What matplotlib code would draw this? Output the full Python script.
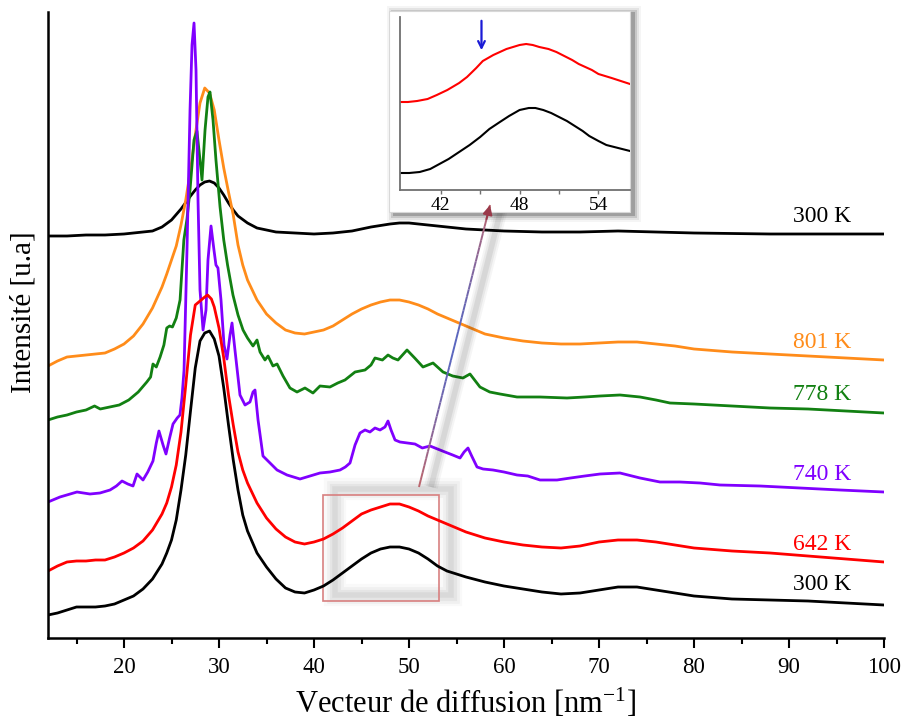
import numpy as np
import matplotlib
matplotlib.use("Agg")
import matplotlib.pyplot as plt
from matplotlib.patches import Rectangle, ConnectionPatch
from matplotlib.collections import LineCollection
from matplotlib import transforms

plt.rcParams['font.family'] = ['Liberation Serif', 'DejaVu Serif']
plt.rcParams['mathtext.fontset'] = 'custom'
plt.rcParams['mathtext.rm'] = 'Liberation Serif'
plt.rcParams['mathtext.it'] = 'Liberation Serif:italic'

# ---------------- data (q in nm^-1, intensity in arbitrary offset units) -------------
q_300_top = [12, 14, 16, 18, 20, 22, 23, 24, 25, 26, 27, 27.5, 28, 28.5, 29, 29.5, 30,
             30.5, 31, 31.5, 32, 33, 34, 35, 36, 38, 40, 42, 44, 46, 48, 49, 50, 52, 54,
             56, 60, 64, 68, 72, 76, 80, 88, 100]
I_300_top = [402, 402, 403, 403, 404, 406, 407, 411, 418, 429, 442, 448, 453, 456, 457,
             455, 450, 443, 435, 428, 422, 415, 410, 408, 406, 405, 404, 405, 407, 411,
             414, 415, 415, 413, 411, 409, 407, 406, 406, 407, 406, 405, 404, 404]

q_801 = [12, 13, 14, 15, 16, 17, 18, 19, 20, 21, 22, 23, 24, 24.5, 25, 25.5, 26, 26.5,
         27, 27.5, 28, 28.5, 29, 29.5, 30, 30.5, 31, 31.5, 32, 32.5, 33, 34, 35, 36, 37,
         38, 39, 40, 41, 42, 43, 44, 45, 46, 47, 48, 49, 50, 51, 52, 53, 54, 55, 56, 58,
         60, 62, 64, 66, 68, 70, 72, 74, 76, 78, 80, 84, 88, 92, 96, 100]
I_801 = [272, 277, 281, 282, 283, 284, 285, 289, 294, 302, 314, 330, 351, 364, 378, 392,
         413, 438, 468, 503, 535, 550, 545, 528, 498, 470, 446, 423, 393, 373, 358, 338,
         324, 315, 308, 305, 304, 306, 308, 312, 318, 324, 329, 333, 336, 338, 338, 336,
         333, 329, 324, 320, 316, 312, 304, 300, 297, 295, 294, 294, 295, 296, 296, 294,
         292, 289, 286, 284, 282, 280, 278]

q_778 = [12, 13, 14, 15, 16, 16.9, 17.5, 18.5, 19.5, 20.5, 21.5, 22.4, 22.8, 23.05, 23.4,
         23.8, 24.2, 24.5, 24.8, 25.1, 25.5, 25.9, 26.3, 26.63, 26.95, 27.37, 27.68, 28.0,
         28.21, 28.53, 28.84, 29.05, 29.37, 29.68, 30.11, 30.5, 30.9, 31.47, 32.0, 32.53,
         33.0, 33.58, 34.0, 34.32, 34.84, 35.16, 35.68, 36.11, 36.74, 37.47, 38.21, 39.05,
         39.89, 40.63, 41.68, 42.5, 43.26, 44.32, 45.37, 46.0, 46.42, 47.2, 47.79, 48.3,
         48.84, 49.79, 50.6, 51.47, 52.53, 53.58, 54.6, 55.68, 56.42, 57.47, 58.5, 59.58,
         61.37, 63.79, 66.63, 68.5, 70.11, 72.21, 74.32, 76, 77.47, 80, 84, 88, 92, 96, 100]
I_778 = [218, 221, 223, 226, 228, 232, 229, 231, 233, 238, 246, 256, 261, 274, 271, 281,
         293, 310, 312, 311, 320, 338, 398, 419, 448, 498, 507, 478, 458, 508, 541, 546,
         518, 478, 431, 398, 373, 343, 323, 308, 300, 292, 298, 286, 278, 282, 272, 274,
         262, 250, 246, 250, 245, 252, 251, 255, 258, 266, 268, 273, 280, 278, 283, 280,
         278, 288, 280, 271, 275, 266, 262, 260, 264, 251, 246, 244, 241, 241, 240, 241,
         242, 243, 241, 238, 235, 234, 232, 230, 229, 227, 225]

q_740 = [12.0, 13.26, 15.05, 16.42, 17.47, 18.53, 19.2, 19.79, 20.4, 20.95, 21.37, 22.0,
         22.5, 23.05, 23.4, 23.68, 24.11, 24.42, 24.8, 25.16, 25.6, 25.89, 26.1, 26.32,
         26.63, 26.95, 27.16, 27.37, 27.58, 27.79, 28.0, 28.32, 28.63, 28.84, 29.16, 29.47,
         29.68, 29.89, 30.21, 30.53, 30.84, 31.16, 31.37, 31.68, 32.21, 32.74, 33.26, 33.58,
         33.79, 34.11, 34.63, 35.37, 36.11, 37.16, 38.53, 39.58, 40.63, 41.68, 42.74, 43.3,
         43.79, 44.32, 44.84, 45.37, 45.89, 46.42, 46.95, 47.47, 47.79, 48.11, 48.53, 49.05,
         50.63, 51.4, 52.21, 53.0, 53.79, 54.6, 55.37, 55.8, 56.21, 56.6, 57.16, 57.8, 58.84,
         60.0, 61.37, 62.5, 63.79, 65.58, 67.0, 68.5, 70.11, 72.21, 74.32, 76.42, 78.5,
         80.63, 82.74, 86.95, 91.16, 95.37, 100.0]
I_740 = [136, 141, 146, 144, 145, 148, 152, 157, 154, 152, 164, 158, 166, 177, 195, 207,
         193, 184, 200, 214, 220, 223, 240, 268, 388, 528, 593, 615, 568, 438, 348, 308,
         328, 378, 412, 388, 373, 370, 338, 293, 279, 303, 315, 288, 243, 233, 236, 246,
         248, 218, 182, 175, 168, 163, 159, 162, 165, 166, 168, 171, 175, 193, 205, 208,
         206, 210, 208, 211, 217, 208, 198, 196, 194, 190, 192, 189, 186, 183, 180, 186,
         190, 182, 171, 169, 168, 166, 163, 162, 158, 158, 160, 162, 164, 165, 160, 156,
         156, 155, 153, 152, 150, 148, 146]

q_642 = [12, 13, 14, 15, 16, 17, 18, 19, 20, 21, 22, 23, 24, 24.5, 25, 25.5, 26, 26.5, 27,
         27.5, 28, 28.5, 28.8, 29.2, 29.5, 30, 30.5, 31, 31.5, 32, 32.5, 33, 34, 35, 36, 37,
         38, 39, 40, 41, 42, 43, 44, 45, 46, 47, 48, 49, 50, 51, 52, 53, 54, 56, 58, 60, 62,
         64, 66, 68, 70, 72, 74, 76, 78, 80, 84, 88, 92, 96, 100]
I_642 = [67, 72, 76, 77, 77, 78, 78, 81, 85, 90, 97, 108, 124, 135, 151, 173, 206, 253,
         303, 333, 337, 341, 343, 339, 331, 310, 280, 243, 213, 186, 168, 155, 135, 120,
         109, 101, 96, 94, 96, 99, 104, 110, 117, 124, 128, 131, 134, 134, 131, 127, 122,
         118, 114, 106, 100, 96, 93, 91, 90, 92, 96, 98, 98, 96, 93, 90, 87, 85, 82, 79, 76]

q_300_bot = [12, 13, 14, 15, 16, 17, 18, 19, 20, 21, 22, 23, 24, 24.5, 25, 25.5, 26, 26.5,
             27, 27.5, 28, 28.5, 29, 29.5, 30, 30.5, 31, 31.5, 32, 32.5, 33, 34, 35, 36, 37,
             38, 39, 40, 41, 42, 43, 44, 45, 46, 47, 48, 49, 50, 51, 52, 53, 54, 55, 56, 58,
             60, 62, 64, 66, 68, 70, 72, 74, 76, 78, 80, 84, 88, 92, 96, 100]
I_300_bot = [23, 25, 28, 31, 31, 31, 32, 34, 38, 42, 49, 59, 74, 85, 98, 118, 148, 183,
             227, 270, 297, 305, 307, 299, 282, 250, 213, 178, 148, 123, 107, 85, 71, 59, 50,
             46, 45, 48, 52, 58, 65, 72, 79, 85, 89, 91, 91, 89, 85, 79, 72, 67, 64, 61, 56,
             52, 49, 46, 44, 45, 48, 51, 51, 48, 45, 42, 39, 38, 37, 35, 33]

series_labels = ['300 K', '801 K', '778 K', '740 K', '642 K', '300 K']
series_colors = ['#000000', '#ff8c1a', '#128012', '#8000ff', '#ff0000', '#000000']
label_I = [421, 296, 243, 163, 93, 53]
label_q = 93.5

# inset data (zoom on 39-56 nm^-1)
inset_q_642 = [38.9, 39.5, 40.2, 41.0, 41.7, 42.5, 43.4, 44.0, 44.7, 45.2, 45.6, 46.0,
               46.5, 47.0, 47.5, 48.0, 48.5, 49.0, 49.5, 50.2, 50.8, 51.4, 52.0, 52.5,
               53.0, 53.5, 54.0, 54.5, 55.0, 55.7, 56.4]
inset_I_642 = [88, 88, 89, 91, 95, 100, 107, 113, 122, 129, 132, 135, 138, 141, 143, 145,
               146, 145, 143, 141, 138, 134, 130, 126, 123, 120, 116, 114, 112, 109, 106]
inset_q_300 = [38.9, 39.6, 40.4, 41.2, 41.9, 42.6, 43.4, 44.2, 45.0, 45.7, 46.5, 47.2,
               48.0, 48.7, 49.2, 49.8, 50.4, 51.0, 51.6, 52.2, 52.8, 53.3, 54.0, 54.6,
               55.5, 56.4]
inset_I_300 = [17, 17, 18, 21, 26, 31, 38, 45, 53, 61, 68, 74, 80, 82, 82, 80, 77, 73,
               69, 64, 59, 54, 49, 45, 42, 39]
inset_ticks = [42, 48, 54]
shoulder_q = 45.1

zoom_q = (40.95, 53.16)
zoom_I = (37, 143)

# ---------------- figure ----------------
W, H = 906, 720
fig = plt.figure(figsize=(W / 100, H / 100), dpi=100)


def fbox(x0, y0, x1, y1):
    """pixel box (top-left origin) -> figure fraction rect"""
    return [x0 / W, 1 - y1 / H, (x1 - x0) / W, (y1 - y0) / H]


ax = fig.add_axes(fbox(48, 12, 884, 638))
ax.set_zorder(0)
curves = [(q_300_top, I_300_top), (q_801, I_801), (q_778, I_778),
          (q_740, I_740), (q_642, I_642), (q_300_bot, I_300_bot)]
for (q, I), c in zip(curves, series_colors):
    ax.plot(q, I, color=c, lw=2.0, solid_joinstyle='round', solid_capstyle='round')
for lab, c, yI in zip(series_labels, series_colors, label_I):
    ax.text(label_q, yI, lab, color=c, fontsize=17, ha='center', va='center')

ax.set_xlim(12, 100)
ax.set_ylim(0, 626)
ax.set_yticks([])
for s in ['top', 'right']:
    ax.spines[s].set_visible(False)
for s in ['left', 'bottom']:
    ax.spines[s].set_linewidth(1.8)
ax.set_xticks(np.arange(20, 101, 10))
ax.set_xticks(np.arange(15, 100, 10), minor=True)
ax.tick_params(axis='x', which='major', length=7, width=1.5, direction='out',
               labelsize=16.5, pad=7)
ax.tick_params(axis='x', which='minor', length=4, width=1.5, direction='out')
ax.set_xlabel('Vecteur de diffusion [nm$^{-1}$]', fontsize=22, labelpad=6)
ax.set_ylabel('Intensité [u.a]', fontsize=21, va='center')
ax.yaxis.set_label_coords(-0.029, 0.52)

# zoom rectangle with soft shadow
shadow_tr = transforms.offset_copy(ax.transData, fig=fig, x=12, y=6, units='dots')
for lw, a in [(16, 0.025), (12, 0.035), (8, 0.045), (4, 0.05)]:
    ax.add_patch(Rectangle((zoom_q[0], zoom_I[0]), zoom_q[1] - zoom_q[0], zoom_I[1] - zoom_I[0],
                           fill=False, ec='black', lw=lw, alpha=a, transform=shadow_tr,
                           clip_on=False))
ax.add_patch(Rectangle((zoom_q[0], zoom_I[0]), zoom_q[1] - zoom_q[0], zoom_I[1] - zoom_I[0],
                       fill=False, ec='#d88080', lw=1.2, clip_on=False))

# ---------------- inset box with shadow ----------------
bx0, by0, bx1, by1 = 389, 11, 630, 212
for d, a in [(6, 0.04), (4, 0.07), (2, 0.12), (0, 0.2)]:
    rr = fbox(bx0 + 4 - d, by0 + 1 - d, bx1 + 5 + d, by1 + 4 + d)
    fig.add_artist(Rectangle((rr[0], rr[1]), rr[2], rr[3], transform=fig.transFigure,
                             fc='black', ec='none', alpha=a, zorder=2))
r = fbox(bx0, by0, bx1, by1)
fig.add_artist(Rectangle((r[0], r[1]), r[2], r[3], transform=fig.transFigure,
                         fc='white', ec='#d8d8d8', lw=0.8, zorder=3))

axin = fig.add_axes(fbox(400, 17, 630, 190))
axin.set_zorder(5)
axin.patch.set_alpha(0)
axin.plot(inset_q_642, inset_I_642, color='#ff0000', lw=1.5)
axin.plot(inset_q_300, inset_I_300, color='#000000', lw=1.5)
axin.set_xlim(38.9, 56.4)
axin.set_ylim(0, 173)
axin.set_yticks([])
axin.set_xticks(inset_ticks)
axin.set_xticks([45, 51], minor=True)
for s in ['top', 'right']:
    axin.spines[s].set_visible(False)
for s in ['left', 'bottom']:
    axin.spines[s].set_color('#707070')
    axin.spines[s].set_linewidth(1.3)
axin.tick_params(axis='x', which='both', length=3, width=1, color='#707070',
                 direction='out', labelsize=14, pad=2)
axin.annotate('', xy=(shoulder_q, 137), xytext=(shoulder_q, 172),
              arrowprops=dict(arrowstyle='->', color='#1a1ad6', lw=1.6, mutation_scale=12))

# ---------------- connecting arrow with gradient + shadow ----------------
arrow_start = (51.05, 151)
arrow_end = (58.53, 433)
ash_tr = transforms.offset_copy(ax.transData, fig=fig, x=12, y=0, units='dots')
for lw, a in [(10, 0.04), (7, 0.05), (4, 0.07)]:
    fig.add_artist(LineCollection([[arrow_start, arrow_end]], colors='black', linewidths=lw,
                                  alpha=a, transform=ash_tr, zorder=1.5))
n = 40
t = np.linspace(0, 1, n + 1)
xs = arrow_start[0] + (arrow_end[0] - arrow_start[0]) * t
ys = arrow_start[1] + (arrow_end[1] - arrow_start[1]) * t
segs = [[(xs[i], ys[i]), (xs[i + 1], ys[i + 1])] for i in range(n)]
c_a = np.array([0.75, 0.40, 0.42])
c_b = np.array([0.35, 0.40, 0.75])
cols = []
for tm in (t[:-1] + t[1:]) / 2:
    w = 1 - abs(2 * tm - 1) ** 1.5
    cols.append(tuple(c_a * (1 - w) + c_b * w))
lc = LineCollection(segs, colors=cols, linewidths=1.4, transform=ax.transData, zorder=6)
fig.add_artist(lc)
head_from = (arrow_start[0] + (arrow_end[0] - arrow_start[0]) * 0.95,
             arrow_start[1] + (arrow_end[1] - arrow_start[1]) * 0.95)
con = ConnectionPatch(xyA=head_from, coordsA=ax.transData, xyB=arrow_end, coordsB=ax.transData,
                      arrowstyle='-|>', mutation_scale=14, color='#9a3a4a', lw=1.4, zorder=7)
fig.add_artist(con)

fig.savefig('out.png', dpi=100)
